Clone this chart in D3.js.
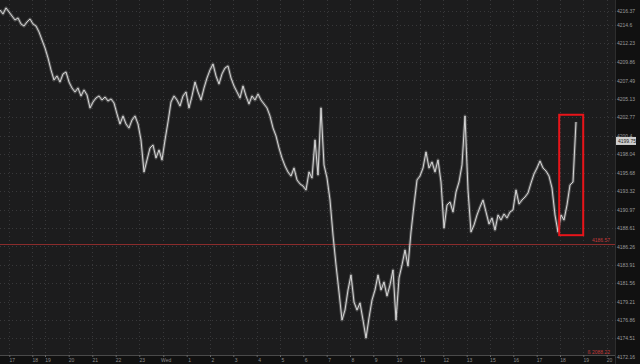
<!DOCTYPE html>
<html>
<head>
<meta charset="utf-8">
<script src="https://cdn.jsdelivr.net/npm/d3@7/dist/d3.min.js"></script>
<style>
  html, body { margin: 0; padding: 0; background: #121212; overflow: hidden; }
  svg { display: block; }
  text { font-family: "Liberation Sans", Arial, sans-serif; }
</style>
</head>
<body>
<svg id="chart" width="640" height="364"></svg>
<script>
// ---------- DATA ----------
// Price series (one value per bar, equally spaced bars)
const prices = [
  4216.50, 4215.99, 4216.76, 4216.25, 4215.73, 4215.22, 4215.48, 4214.71, 4214.45, 4214.97,
  4215.35, 4214.71, 4214.45, 4213.69, 4212.66, 4211.64, 4210.36, 4208.83, 4207.55, 4208.06,
  4207.29, 4208.32, 4208.57, 4207.29, 4206.52, 4206.01, 4206.52, 4205.50, 4206.27, 4205.63,
  4203.97, 4204.73, 4205.25, 4205.50, 4204.99, 4205.37, 4204.86, 4205.12, 4204.61, 4203.20,
  4201.92, 4202.94, 4201.92, 4201.41, 4202.43, 4202.94, 4201.92, 4199.87, 4195.78, 4197.32,
  4198.85, 4199.23, 4197.57, 4198.59, 4197.32, 4199.87, 4202.18, 4204.73, 4205.50, 4204.99,
  4204.22, 4205.50, 4206.01, 4203.97, 4205.50, 4207.29, 4206.01, 4204.99, 4206.52, 4207.80,
  4208.83, 4209.59, 4208.06, 4207.04, 4208.32, 4209.08, 4209.34, 4207.80, 4206.78, 4206.01,
  4205.25, 4206.78, 4205.50, 4204.48, 4205.50, 4204.99, 4205.76, 4204.99, 4204.48, 4203.97,
  4202.94, 4201.41, 4200.39, 4198.85, 4197.57, 4196.55, 4195.78, 4195.27, 4196.29, 4194.76,
  4194.25, 4193.99, 4193.48, 4195.78, 4195.01, 4199.87, 4195.40, 4203.97, 4196.68, 4195.01,
  4192.20, 4187.72, 4183.89, 4180.43, 4176.85, 4178.13, 4180.69, 4182.61, 4179.15, 4178.13,
  4179.03, 4176.85, 4174.55, 4177.11, 4179.41, 4180.69, 4182.61, 4180.69, 4181.71, 4179.92,
  4181.33, 4183.25, 4176.85, 4182.22, 4183.89, 4185.80, 4183.76, 4188.11, 4191.56, 4194.76,
  4195.27, 4196.29, 4198.34, 4196.29, 4197.06, 4195.78, 4197.32, 4194.50, 4188.62, 4191.56,
  4191.94, 4190.67, 4193.22, 4194.50, 4196.68, 4202.94, 4193.48, 4188.11, 4189.00, 4190.28,
  4191.30, 4192.20, 4190.67, 4189.13, 4189.90, 4188.36, 4190.28, 4189.64, 4190.41, 4189.90,
  4190.67, 4190.92, 4193.48, 4191.69, 4192.20, 4192.58, 4193.10, 4194.37, 4195.53, 4196.29,
  4197.19, 4196.29, 4195.91, 4195.27, 4193.73, 4190.28, 4188.11, 4190.28, 4189.64, 4191.56,
  4194.12, 4194.50, 4202.18
];

// Price-axis tick labels
const yTicks = [4216.37, 4214.6, 4212.23, 4209.86, 4207.49, 4205.13, 4202.77, 4200.4,
  4198.04, 4195.68, 4193.32, 4190.97, 4188.61, 4186.26, 4183.91, 4181.56, 4179.21,
  4176.86, 4174.51, 4172.16];
const yTickLabels = ["4216.37", "4214.6", "4212.23", "4209.86", "4207.49", "4205.13", "4202.77", "4200.4",
  "4198.04", "4195.68", "4193.32", "4190.97", "4188.61", "4186.26", "4183.91", "4181.56", "4179.21",
  "4176.86", "4174.51", "4172.16"];

// Time-axis ticks (bar index) and labels
const xTickBars = [3.1, 10.77, 15, 22.9, 30.77, 38.57, 46.43, 54.43, 62.23, 70, 77.77, 85.57,
  93.33, 101.1, 108.9, 116.67, 124.43, 132.23, 140, 147.77, 155.57, 163.33, 171.1, 178.9,
  186.67, 194.43, 202.23];
const xTickLabels = ["17", "18", "19", "20", "21", "22", "23", "Wed", "1", "2", "3", "4",
  "5", "6", "7", "8", "9", "10", "11", "12", "13", "15", "16", "17", "18", "19", "20"];

// Markers
const lastPrice = 4199.75;
const refLevel = 4186.57;
const bottomNote = "ß 2088.22";
const boxBars = [186.4, 194.4];
const boxPrices = [4187.7, 4203.1];

// ---------- LAYOUT ----------
const W = 640, H = 364;
const plotR = 615, plotB = 355;
const svg = d3.select("#chart");

const x = d3.scaleLinear().domain([0, 205]).range([0, 615]);
const y = d3.scaleLinear().domain([4172.16, 4216.37]).range([356.7, 11]);

// backgrounds
svg.append("rect").attr("x", 0).attr("y", 0).attr("width", W).attr("height", H).attr("fill", "#111111");
svg.append("rect").attr("x", 0).attr("y", 0).attr("width", plotR).attr("height", plotB).attr("fill", "#1c1c1d");

// clip
svg.append("clipPath").attr("id", "clip").append("rect")
  .attr("x", 0).attr("y", 0).attr("width", plotR).attr("height", plotB);

// grid
const grid = svg.append("g").attr("clip-path", "url(#clip)");
grid.selectAll("line.h").data(yTicks).join("line")
  .attr("x1", 0).attr("x2", plotR)
  .attr("y1", d => Math.round(y(d)) + 0.5).attr("y2", d => Math.round(y(d)) + 0.5)
  .attr("stroke", "#38383a").attr("stroke-width", 1).attr("stroke-dasharray", "1,3");
grid.selectAll("line.v").data(xTickBars).join("line")
  .attr("y1", 0).attr("y2", plotB)
  .attr("x1", d => Math.round(x(d)) + 0.5).attr("x2", d => Math.round(x(d)) + 0.5)
  .attr("stroke", "#38383a").attr("stroke-width", 1).attr("stroke-dasharray", "1,3");

// reference line
svg.append("line")
  .attr("x1", 0).attr("x2", plotR)
  .attr("y1", Math.round(y(refLevel)) + 0.5).attr("y2", Math.round(y(refLevel)) + 0.5)
  .attr("stroke", "#8a2c2c").attr("stroke-width", 1);
svg.append("text")
  .attr("x", 610).attr("y", y(refLevel) - 2)
  .attr("text-anchor", "end").attr("font-size", 5).attr("fill", "#c23a3a")
  .text(refLevel.toFixed(2));

// price line: soft band + thin core to imitate dense tick texture
const line = d3.line().x((d, i) => x(i)).y(d => y(d));
const pg = svg.append("g").attr("clip-path", "url(#clip)");
pg.append("path").datum(prices)
  .attr("d", line)
  .attr("fill", "none").attr("stroke", "#b8b8b8").attr("stroke-width", 3)
  .attr("stroke-opacity", 0.35).attr("stroke-linejoin", "round");
pg.append("path").datum(prices)
  .attr("d", line)
  .attr("fill", "none").attr("stroke", "#e4e4e4").attr("stroke-width", 0.9)
  .attr("stroke-linejoin", "miter");

// highlight box
svg.append("rect")
  .attr("x", x(boxBars[0])).attr("y", y(boxPrices[1]))
  .attr("width", x(boxBars[1]) - x(boxBars[0]))
  .attr("height", y(boxPrices[0]) - y(boxPrices[1]))
  .attr("fill", "none").attr("stroke", "#e8141a").attr("stroke-width", 2);

// right axis separator
svg.append("line").attr("x1", plotR + 0.5).attr("x2", plotR + 0.5).attr("y1", 0).attr("y2", H)
  .attr("stroke", "#2e2e2e");
// bottom axis line
svg.append("line").attr("x1", 0).attr("x2", plotR).attr("y1", plotB + 0.5).attr("y2", plotB + 0.5)
  .attr("stroke", "#4a4a4a");

// y axis labels
const yAxis = d3.axisRight(y).tickValues(yTicks)
  .tickFormat((d, i) => yTickLabels[i]).tickSize(1).tickPadding(1);
const gy = svg.append("g").attr("transform", `translate(${plotR},0)`).call(yAxis);
gy.select(".domain").remove();
gy.selectAll(".tick line").attr("stroke", "#444");
gy.selectAll(".tick text").attr("font-size", 5).attr("fill", "#9a9a9a")
  .attr("font-family", "'Liberation Sans', Arial, sans-serif");

// last price tag
const ly = y(lastPrice);
svg.append("rect").attr("x", 616).attr("y", ly - 4).attr("width", 20).attr("height", 8)
  .attr("fill", "#cfcfcf");
svg.append("text").attr("x", 618).attr("y", ly + 1.8)
  .attr("font-size", 5).attr("fill", "#222").text(lastPrice.toFixed(2));

// x axis
const xAxis = d3.axisBottom(x).tickValues(xTickBars)
  .tickFormat((d, i) => xTickLabels[i]).tickSize(2).tickPadding(1);
const gx = svg.append("g").attr("transform", `translate(0,${plotB})`).call(xAxis);
gx.select(".domain").remove();
gx.selectAll(".tick line").attr("stroke", "#666");
gx.selectAll(".tick text").attr("font-size", 5).attr("fill", "#8a8a8a").attr("dx", 2.4)
  .attr("font-family", "'Liberation Sans', Arial, sans-serif");

// bottom note
svg.append("text").attr("x", 610).attr("y", 354)
  .attr("text-anchor", "end").attr("font-size", 5).attr("fill", "#c23a3a")
  .text(bottomNote);
</script>
</body>
</html>
